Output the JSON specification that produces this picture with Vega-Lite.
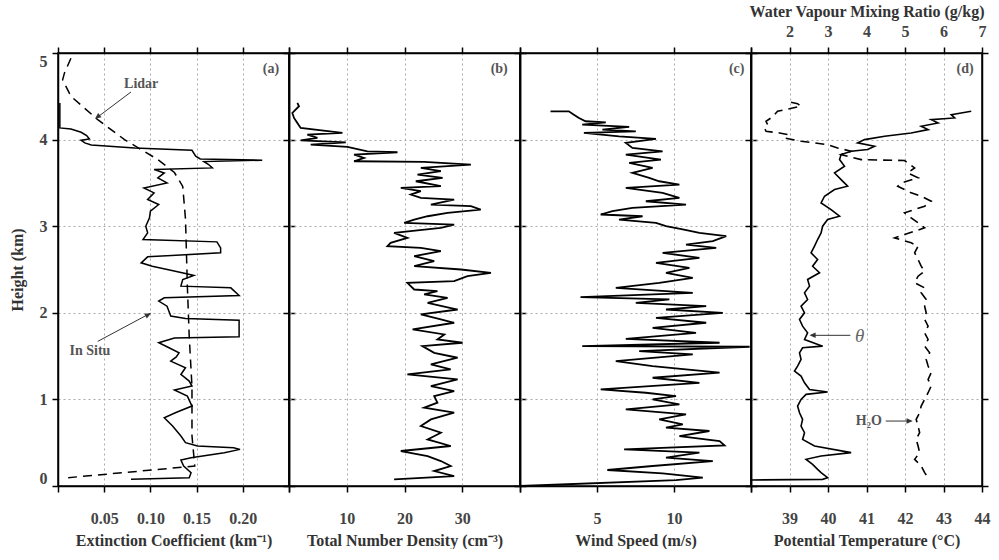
{
"$schema": "https://vega.github.io/schema/vega-lite/v6.json",
"background": "white",
"padding": {"left": 8, "top": 2, "right": 0, "bottom": 0},
"bounds": "flush",
"spacing": 0,
"config": {
 "view": {"stroke": "black", "strokeWidth": 1.5},
 "axis": {"domainColor": "black", "domainWidth": 1.5, "tickColor": "black", "tickWidth": 1.5, "tickSize": 6,
  "labelFont": "Liberation Serif", "labelFontWeight": "bold", "labelFontSize": 16, "labelColor": "#444", "labelOverlap": false, "labelFlush": false,
  "titleFont": "Liberation Serif", "titleFontWeight": "bold", "titleFontSize": 16, "titleColor": "#333",
  "gridColor": "#aaa", "gridDash": [2, 3], "gridWidth": 1},
 "text": {"font": "Liberation Serif", "fontWeight": "bold", "color": "#555", "fontSize": 14}
},
"datasets": {
 "insitu": [{"h":4.423,"v":0.002},{"h":4.135,"v":0.002},{"h":4.123,"v":0.014},{"h":4.085,"v":0.025},{"h":4.046,"v":0.031},{"h":4.008,"v":0.034},{"h":3.992,"v":0.025},{"h":3.962,"v":0.029},{"h":3.938,"v":0.036},{"h":3.904,"v":0.083},{"h":3.877,"v":0.145},{"h":3.808,"v":0.149},{"h":3.777,"v":0.154},{"h":3.762,"v":0.221},{"h":3.746,"v":0.158},{"h":3.712,"v":0.163},{"h":3.673,"v":0.167},{"h":3.654,"v":0.104},{"h":3.615,"v":0.115},{"h":3.558,"v":0.108},{"h":3.5,"v":0.118},{"h":3.442,"v":0.093},{"h":3.385,"v":0.104},{"h":3.308,"v":0.097},{"h":3.25,"v":0.109},{"h":3.173,"v":0.1},{"h":3.096,"v":0.099},{"h":3.0,"v":0.095},{"h":2.923,"v":0.097},{"h":2.846,"v":0.092},{"h":2.819,"v":0.172},{"h":2.75,"v":0.176},{"h":2.692,"v":0.176},{"h":2.646,"v":0.097},{"h":2.577,"v":0.09},{"h":2.538,"v":0.102},{"h":2.492,"v":0.122},{"h":2.454,"v":0.138},{"h":2.431,"v":0.147},{"h":2.385,"v":0.135},{"h":2.308,"v":0.133},{"h":2.288,"v":0.187},{"h":2.2,"v":0.196},{"h":2.173,"v":0.115},{"h":2.135,"v":0.109},{"h":2.077,"v":0.118},{"h":1.962,"v":0.122},{"h":1.935,"v":0.138},{"h":1.915,"v":0.196},{"h":1.723,"v":0.196},{"h":1.708,"v":0.126},{"h":1.654,"v":0.109},{"h":1.608,"v":0.118},{"h":1.538,"v":0.131},{"h":1.49,"v":0.128},{"h":1.442,"v":0.122},{"h":1.365,"v":0.138},{"h":1.288,"v":0.133},{"h":1.212,"v":0.142},{"h":1.154,"v":0.145},{"h":1.108,"v":0.126},{"h":1.038,"v":0.14},{"h":0.923,"v":0.145},{"h":0.846,"v":0.127},{"h":0.788,"v":0.115},{"h":0.692,"v":0.124},{"h":0.577,"v":0.133},{"h":0.5,"v":0.138},{"h":0.462,"v":0.151},{"h":0.442,"v":0.19},{"h":0.423,"v":0.197},{"h":0.385,"v":0.18},{"h":0.327,"v":0.144},{"h":0.3,"v":0.133},{"h":0.231,"v":0.136},{"h":0.154,"v":0.144},{"h":0.096,"v":0.142},{"h":0.077,"v":0.079}],
 "lidar": [{"h":4.94,"v":0.014},{"h":4.77,"v":0.007},{"h":4.69,"v":0.005},{"h":4.5,"v":0.014},{"h":4.23,"v":0.043},{"h":4.0,"v":0.072},{"h":3.77,"v":0.108},{"h":3.62,"v":0.126},{"h":3.46,"v":0.135},{"h":3.08,"v":0.138},{"h":2.31,"v":0.14},{"h":1.73,"v":0.142},{"h":1.15,"v":0.145},{"h":0.58,"v":0.145},{"h":0.23,"v":0.148},{"h":0.096,"v":0.011}],
 "ndens": [{"h":4.423,"v":1.45},{"h":4.385,"v":1.73},{"h":4.308,"v":0.58},{"h":4.25,"v":0.87},{"h":4.192,"v":1.45},{"h":4.135,"v":2.02},{"h":4.077,"v":9.25},{"h":4.058,"v":3.18},{"h":4.019,"v":4.91},{"h":3.992,"v":2.02},{"h":3.969,"v":9.83},{"h":3.942,"v":3.76},{"h":3.915,"v":10.12},{"h":3.865,"v":13.58},{"h":3.854,"v":18.79},{"h":3.827,"v":11.27},{"h":3.788,"v":13.0},{"h":3.75,"v":11.27},{"h":3.742,"v":23.4},{"h":3.712,"v":31.5},{"h":3.673,"v":22.83},{"h":3.635,"v":26.3},{"h":3.596,"v":22.25},{"h":3.558,"v":26.6},{"h":3.519,"v":21.96},{"h":3.462,"v":26.3},{"h":3.442,"v":19.36},{"h":3.404,"v":22.83},{"h":3.365,"v":21.1},{"h":3.327,"v":22.83},{"h":3.308,"v":28.6},{"h":3.25,"v":24.57},{"h":3.231,"v":31.5},{"h":3.192,"v":33.2},{"h":3.154,"v":27.46},{"h":3.115,"v":24.0},{"h":3.077,"v":21.68},{"h":3.038,"v":19.94},{"h":3.019,"v":28.6},{"h":2.981,"v":26.3},{"h":2.923,"v":18.2},{"h":2.865,"v":20.5},{"h":2.808,"v":17.6},{"h":2.769,"v":17.05},{"h":2.75,"v":22.83},{"h":2.712,"v":26.3},{"h":2.654,"v":21.68},{"h":2.596,"v":25.14},{"h":2.538,"v":21.68},{"h":2.5,"v":29.77},{"h":2.462,"v":34.97},{"h":2.423,"v":30.9},{"h":2.365,"v":28.6},{"h":2.346,"v":20.5},{"h":2.269,"v":21.68},{"h":2.25,"v":25.7},{"h":2.212,"v":23.4},{"h":2.173,"v":27.46},{"h":2.115,"v":24.0},{"h":2.038,"v":29.2},{"h":1.981,"v":22.83},{"h":1.923,"v":26.3},{"h":1.885,"v":28.6},{"h":1.808,"v":21.4},{"h":1.75,"v":26.9},{"h":1.692,"v":25.7},{"h":1.654,"v":30.06},{"h":1.615,"v":23.1},{"h":1.538,"v":25.14},{"h":1.481,"v":29.2},{"h":1.404,"v":24.57},{"h":1.346,"v":28.0},{"h":1.288,"v":20.5},{"h":1.231,"v":29.2},{"h":1.154,"v":24.57},{"h":1.096,"v":28.6},{"h":1.038,"v":25.14},{"h":0.962,"v":25.7},{"h":0.904,"v":23.4},{"h":0.846,"v":28.6},{"h":0.769,"v":24.57},{"h":0.692,"v":22.83},{"h":0.615,"v":26.3},{"h":0.538,"v":24.0},{"h":0.462,"v":28.0},{"h":0.404,"v":19.36},{"h":0.346,"v":24.0},{"h":0.288,"v":26.3},{"h":0.231,"v":28.0},{"h":0.173,"v":25.14},{"h":0.115,"v":28.6},{"h":0.077,"v":18.2}],
 "wind": [{"h":4.327,"v":1.98},{"h":4.327,"v":3.17},{"h":4.288,"v":3.5},{"h":4.25,"v":3.83},{"h":4.212,"v":4.26},{"h":4.2,"v":5.57},{"h":4.173,"v":4.04},{"h":4.146,"v":7.09},{"h":4.115,"v":5.35},{"h":4.096,"v":7.52},{"h":4.077,"v":4.15},{"h":4.038,"v":6.43},{"h":4.008,"v":8.83},{"h":3.962,"v":6.87},{"h":3.904,"v":7.3},{"h":3.865,"v":9.26},{"h":3.827,"v":6.87},{"h":3.769,"v":9.15},{"h":3.731,"v":7.09},{"h":3.673,"v":8.61},{"h":3.615,"v":7.3},{"h":3.558,"v":8.39},{"h":3.519,"v":9.04},{"h":3.481,"v":10.35},{"h":3.442,"v":6.87},{"h":3.385,"v":9.26},{"h":3.327,"v":10.35},{"h":3.288,"v":8.17},{"h":3.25,"v":10.78},{"h":3.212,"v":7.3},{"h":3.173,"v":6.0},{"h":3.135,"v":5.24},{"h":3.115,"v":7.96},{"h":3.077,"v":6.43},{"h":3.038,"v":8.83},{"h":3.0,"v":9.48},{"h":2.962,"v":10.57},{"h":2.923,"v":11.65},{"h":2.885,"v":13.39},{"h":2.827,"v":12.52},{"h":2.788,"v":10.78},{"h":2.75,"v":12.74},{"h":2.692,"v":9.26},{"h":2.635,"v":11.65},{"h":2.577,"v":8.83},{"h":2.519,"v":11.0},{"h":2.462,"v":9.48},{"h":2.404,"v":11.22},{"h":2.346,"v":9.04},{"h":2.288,"v":6.22},{"h":2.231,"v":11.22},{"h":2.181,"v":3.93},{"h":2.154,"v":9.7},{"h":2.115,"v":7.52},{"h":2.077,"v":12.09},{"h":2.038,"v":9.48},{"h":2.0,"v":13.17},{"h":1.942,"v":8.83},{"h":1.885,"v":12.09},{"h":1.827,"v":8.61},{"h":1.769,"v":11.43},{"h":1.7,"v":6.87},{"h":1.654,"v":12.96},{"h":1.615,"v":4.04},{"h":1.608,"v":14.91},{"h":1.558,"v":7.74},{"h":1.519,"v":11.22},{"h":1.442,"v":6.22},{"h":1.385,"v":8.61},{"h":1.346,"v":10.78},{"h":1.308,"v":12.96},{"h":1.25,"v":8.61},{"h":1.192,"v":11.65},{"h":1.115,"v":5.24},{"h":1.077,"v":8.17},{"h":1.038,"v":10.13},{"h":1.0,"v":8.61},{"h":0.942,"v":10.35},{"h":0.885,"v":6.87},{"h":0.827,"v":10.78},{"h":0.769,"v":9.04},{"h":0.712,"v":10.57},{"h":0.673,"v":9.48},{"h":0.635,"v":12.3},{"h":0.577,"v":10.35},{"h":0.519,"v":12.96},{"h":0.469,"v":13.28},{"h":0.423,"v":6.76},{"h":0.385,"v":11.65},{"h":0.327,"v":9.48},{"h":0.288,"v":12.52},{"h":0.231,"v":8.61},{"h":0.185,"v":5.67},{"h":0.146,"v":9.26},{"h":0.096,"v":11.87},{"h":0.069,"v":10.13},{"h":0.0,"v":0.02}],
 "theta": [{"h":4.327,"v":43.72},{"h":4.288,"v":43.2},{"h":4.25,"v":43.29},{"h":4.231,"v":42.68},{"h":4.192,"v":42.86},{"h":4.154,"v":42.42},{"h":4.115,"v":42.6},{"h":4.077,"v":42.16},{"h":4.038,"v":41.47},{"h":4.0,"v":40.95},{"h":3.962,"v":40.77},{"h":3.923,"v":41.21},{"h":3.885,"v":41.03},{"h":3.865,"v":40.6},{"h":3.827,"v":40.34},{"h":3.769,"v":40.3},{"h":3.692,"v":40.43},{"h":3.615,"v":40.17},{"h":3.538,"v":40.34},{"h":3.462,"v":40.51},{"h":3.423,"v":40.17},{"h":3.346,"v":39.91},{"h":3.269,"v":39.82},{"h":3.192,"v":40.08},{"h":3.115,"v":40.3},{"h":3.077,"v":39.99},{"h":3.0,"v":39.86},{"h":2.923,"v":39.82},{"h":2.846,"v":39.73},{"h":2.769,"v":39.65},{"h":2.692,"v":39.56},{"h":2.615,"v":39.73},{"h":2.538,"v":39.6},{"h":2.462,"v":39.78},{"h":2.385,"v":39.47},{"h":2.308,"v":39.52},{"h":2.231,"v":39.39},{"h":2.154,"v":39.47},{"h":2.077,"v":39.3},{"h":2.0,"v":39.39},{"h":1.923,"v":39.26},{"h":1.846,"v":39.34},{"h":1.769,"v":39.47},{"h":1.692,"v":39.39},{"h":1.615,"v":39.86},{"h":1.596,"v":39.34},{"h":1.538,"v":39.26},{"h":1.462,"v":39.3},{"h":1.385,"v":39.21},{"h":1.327,"v":39.13},{"h":1.269,"v":39.3},{"h":1.192,"v":39.39},{"h":1.115,"v":39.52},{"h":1.085,"v":39.99},{"h":1.058,"v":39.43},{"h":1.0,"v":39.3},{"h":0.923,"v":39.21},{"h":0.846,"v":39.26},{"h":0.769,"v":39.34},{"h":0.692,"v":39.3},{"h":0.615,"v":39.39},{"h":0.538,"v":39.34},{"h":0.462,"v":39.65},{"h":0.385,"v":40.6},{"h":0.346,"v":39.82},{"h":0.308,"v":39.43},{"h":0.25,"v":39.6},{"h":0.192,"v":39.73},{"h":0.154,"v":39.82},{"h":0.096,"v":39.99},{"h":0.077,"v":39.86},{"h":0.069,"v":38.0}],
 "wv": [{"h":4.431,"v":2.04},{"h":4.415,"v":2.21},{"h":4.385,"v":2.3},{"h":4.365,"v":2.08},{"h":4.327,"v":1.69},{"h":4.288,"v":1.61},{"h":4.25,"v":1.52},{"h":4.212,"v":1.39},{"h":4.173,"v":1.43},{"h":4.135,"v":1.35},{"h":4.096,"v":1.39},{"h":4.077,"v":1.74},{"h":4.058,"v":1.95},{"h":4.019,"v":1.87},{"h":3.981,"v":2.3},{"h":3.942,"v":2.99},{"h":3.904,"v":3.25},{"h":3.865,"v":3.6},{"h":3.827,"v":3.34},{"h":3.808,"v":3.51},{"h":3.769,"v":3.86},{"h":3.758,"v":4.99},{"h":3.731,"v":5.07},{"h":3.673,"v":5.25},{"h":3.615,"v":5.07},{"h":3.558,"v":5.34},{"h":3.5,"v":4.9},{"h":3.462,"v":4.81},{"h":3.385,"v":5.16},{"h":3.346,"v":5.42},{"h":3.288,"v":5.68},{"h":3.231,"v":5.51},{"h":3.154,"v":4.99},{"h":3.096,"v":5.16},{"h":3.038,"v":5.34},{"h":2.981,"v":5.51},{"h":2.904,"v":4.99},{"h":2.865,"v":4.73},{"h":2.808,"v":5.16},{"h":2.769,"v":5.34},{"h":2.692,"v":5.25},{"h":2.615,"v":5.34},{"h":2.538,"v":5.42},{"h":2.481,"v":5.51},{"h":2.423,"v":5.34},{"h":2.346,"v":5.25},{"h":2.288,"v":5.51},{"h":2.231,"v":5.42},{"h":2.154,"v":5.55},{"h":2.077,"v":5.51},{"h":2.0,"v":5.55},{"h":1.923,"v":5.51},{"h":1.846,"v":5.6},{"h":1.769,"v":5.51},{"h":1.692,"v":5.6},{"h":1.615,"v":5.51},{"h":1.538,"v":5.64},{"h":1.462,"v":5.55},{"h":1.385,"v":5.6},{"h":1.308,"v":5.68},{"h":1.231,"v":5.6},{"h":1.154,"v":5.68},{"h":1.077,"v":5.6},{"h":1.0,"v":5.51},{"h":0.923,"v":5.42},{"h":0.846,"v":5.38},{"h":0.769,"v":5.29},{"h":0.692,"v":5.34},{"h":0.615,"v":5.38},{"h":0.538,"v":5.29},{"h":0.462,"v":5.34},{"h":0.385,"v":5.38},{"h":0.308,"v":5.25},{"h":0.231,"v":5.42},{"h":0.154,"v":5.51},{"h":0.096,"v":5.6}]
},
"hconcat": [
 {
  "width": 231, "height": 433,
  "layer": [
   {"data": {"name": "lidar"}, "mark": {"type": "line", "color": "black", "strokeWidth": 1.5, "strokeDash": [9, 6]},
    "encoding": {
     "x": {"field": "v", "type": "quantitative", "scale": {"domain": [0, 0.25]},
      "axis": {"orient": "bottom", "values": [0, 0.05, 0.1, 0.15, 0.2, 0.25], "labelExpr": "datum.value < 0.01 || datum.value > 0.24 ? '' : format(datum.value, '.2f')", "grid": true, "labelPadding": 18, "titlePadding": 6, "title": "Extinction Coefficient (km⁻¹)"}},
     "y": {"field": "h", "type": "quantitative", "scale": {"domain": [0, 5]},
      "axis": {"orient": "left", "values": [0, 1, 2, 3, 4, 5], "grid": true, "labelPadding": 5, "labelFlush": true, "titlePadding": 14, "title": "Height (km)"}},
     "order": {"value": null}}},
   {"data": {"name": "insitu"}, "mark": {"type": "line", "color": "black", "strokeWidth": 1.5},
    "encoding": {
     "x": {"field": "v", "type": "quantitative", "scale": {"domain": [0, 0.25]}, "axis": null},
     "y": {"field": "h", "type": "quantitative", "scale": {"domain": [0, 5]}, "axis": null},
     "order": {"value": null}}},
   {"data": {"values": [{"t": "(a)", "x": 0.2305, "h": 4.82}]}, "mark": {"type": "text", "fontSize": 14},
    "encoding": {
     "x": {"field": "x", "type": "quantitative", "scale": {"domain": [0, 0.25]}, "axis": {"orient": "top", "values": [0, 0.05, 0.1, 0.15, 0.2, 0.25], "labels": false, "title": null, "grid": false}},
     "y": {"field": "h", "type": "quantitative", "scale": {"domain": [0, 5]}, "axis": {"orient": "right", "values": [0, 1, 2, 3, 4, 5], "labels": false, "title": null, "grid": false}},
     "text": {"field": "t"}}},
   {"data": {"values": [{"t": "Lidar", "x": 0.09, "h": 4.64}, {"t": "In Situ", "x": 0.0346, "h": 1.56}]}, "mark": {"type": "text", "fontSize": 14},
    "encoding": {
     "x": {"field": "x", "type": "quantitative", "scale": {"domain": [0, 0.25]}, "axis": null},
     "y": {"field": "h", "type": "quantitative", "scale": {"domain": [0, 5]}, "axis": null},
     "text": {"field": "t"}}},
   {"data": {"values": [{"x": 0.079, "h": 4.55, "x2": 0.041, "h2": 4.245}, {"x": 0.043, "h": 1.67, "x2": 0.1, "h2": 1.995}]}, "mark": {"type": "rule", "color": "#333", "strokeWidth": 1},
    "encoding": {
     "x": {"field": "x", "type": "quantitative", "scale": {"domain": [0, 0.25]}, "axis": null},
     "y": {"field": "h", "type": "quantitative", "scale": {"domain": [0, 5]}, "axis": null},
     "x2": {"field": "x2"}, "y2": {"field": "h2"}}},
   {"data": {"values": [{"x": 0.04, "h": 4.24}]}, "mark": {"type": "point", "shape": "M -0.45 1 L 0 0 L 0.45 1 Z", "filled": true, "size": 150, "color": "#333", "opacity": 1, "angle": 233},
    "encoding": {
     "x": {"field": "x", "type": "quantitative", "scale": {"domain": [0, 0.25]}, "axis": null},
     "y": {"field": "h", "type": "quantitative", "scale": {"domain": [0, 5]}, "axis": null}}},
   {"data": {"values": [{"x": 0.1006, "h": 1.995}]}, "mark": {"type": "point", "shape": "M -0.45 1 L 0 0 L 0.45 1 Z", "filled": true, "size": 150, "color": "#333", "opacity": 1, "angle": 62},
    "encoding": {
     "x": {"field": "x", "type": "quantitative", "scale": {"domain": [0, 0.25]}, "axis": null},
     "y": {"field": "h", "type": "quantitative", "scale": {"domain": [0, 5]}, "axis": null}}}
  ],
  "resolve": {"axis": {"x": "independent", "y": "independent"}}
 },
 {
  "width": 231, "height": 433,
  "layer": [
   {"data": {"name": "ndens"}, "mark": {"type": "line", "color": "black", "strokeWidth": 1.8},
    "encoding": {
     "x": {"field": "v", "type": "quantitative", "scale": {"domain": [0, 40]},
      "axis": {"orient": "bottom", "values": [0, 10, 20, 30, 40], "labelExpr": "datum.value == 0 || datum.value == 40 ? '' : datum.value", "grid": true, "labelPadding": 18, "titlePadding": 6, "title": "Total Number Density (cm⁻³)"}},
     "y": {"field": "h", "type": "quantitative", "scale": {"domain": [0, 5]},
      "axis": {"orient": "left", "values": [0, 1, 2, 3, 4, 5], "grid": true, "labels": false, "title": null}},
     "order": {"value": null}}},
   {"data": {"values": [{"t": "(b)", "x": 36.4, "h": 4.82}]}, "mark": {"type": "text", "fontSize": 14},
    "encoding": {
     "x": {"field": "x", "type": "quantitative", "scale": {"domain": [0, 40]}, "axis": {"orient": "top", "values": [0, 10, 20, 30, 40], "labels": false, "title": null, "grid": false}},
     "y": {"field": "h", "type": "quantitative", "scale": {"domain": [0, 5]}, "axis": {"orient": "right", "values": [0, 1, 2, 3, 4, 5], "labels": false, "title": null, "grid": false}},
     "text": {"field": "t"}}}
  ],
  "resolve": {"axis": {"x": "independent", "y": "independent"}}
 },
 {
  "width": 231, "height": 433,
  "layer": [
   {"data": {"name": "wind"}, "mark": {"type": "line", "color": "black", "strokeWidth": 1.8},
    "encoding": {
     "x": {"field": "v", "type": "quantitative", "scale": {"domain": [0, 15]},
      "axis": {"orient": "bottom", "values": [0, 5, 10, 15], "labelExpr": "datum.value == 0 || datum.value == 15 ? '' : datum.value", "grid": true, "labelPadding": 18, "titlePadding": 6, "title": "Wind Speed (m/s)"}},
     "y": {"field": "h", "type": "quantitative", "scale": {"domain": [0, 5]},
      "axis": {"orient": "left", "values": [0, 1, 2, 3, 4, 5], "grid": true, "labels": false, "title": null}},
     "order": {"value": null}}},
   {"data": {"values": [{"t": "(c)", "x": 14.07, "h": 4.82}]}, "mark": {"type": "text", "fontSize": 14},
    "encoding": {
     "x": {"field": "x", "type": "quantitative", "scale": {"domain": [0, 15]}, "axis": {"orient": "top", "values": [0, 5, 10, 15], "labels": false, "title": null, "grid": false}},
     "y": {"field": "h", "type": "quantitative", "scale": {"domain": [0, 5]}, "axis": {"orient": "right", "values": [0, 1, 2, 3, 4, 5], "labels": false, "title": null, "grid": false}},
     "text": {"field": "t"}}}
  ],
  "resolve": {"axis": {"x": "independent", "y": "independent"}}
 },
 {
  "width": 231, "height": 433,
  "layer": [
   {"data": {"name": "theta"}, "mark": {"type": "line", "color": "black", "strokeWidth": 1.6},
    "encoding": {
     "x": {"field": "v", "type": "quantitative", "scale": {"domain": [38, 44]},
      "axis": {"orient": "bottom", "values": [38, 39, 40, 41, 42, 43, 44], "labelExpr": "datum.value == 38 ? '' : datum.value", "grid": true, "labelPadding": 18, "titlePadding": 6, "title": "Potential Temperature (°C)"}},
     "y": {"field": "h", "type": "quantitative", "scale": {"domain": [0, 5]},
      "axis": {"orient": "left", "values": [0, 1, 2, 3, 4, 5], "grid": true, "labels": false, "title": null}},
     "order": {"value": null}}},
   {"data": {"name": "wv"}, "mark": {"type": "line", "color": "black", "strokeWidth": 1.6, "strokeDash": [9, 6]},
    "encoding": {
     "x": {"field": "v", "type": "quantitative", "scale": {"domain": [1, 7]},
      "axis": {"orient": "top", "values": [1, 2, 3, 4, 5, 6, 7], "labelExpr": "datum.value == 1 ? '' : datum.value", "grid": false, "labelPadding": 8, "titlePadding": 4, "title": "Water Vapour Mixing Ratio (g/kg)"}},
     "y": {"field": "h", "type": "quantitative", "scale": {"domain": [0, 5]},
      "axis": {"orient": "right", "values": [0, 1, 2, 3, 4, 5], "labels": false, "title": null, "grid": false}},
     "order": {"value": null}}},
   {"data": {"values": [{"t": "(d)", "x": 43.56, "h": 4.82}, {"t": "H₂O", "x": 41.06, "h": 0.75}]}, "mark": {"type": "text", "fontSize": 14},
    "encoding": {
     "x": {"field": "x", "type": "quantitative", "scale": {"domain": [38, 44]}, "axis": null},
     "y": {"field": "h", "type": "quantitative", "scale": {"domain": [0, 5]}, "axis": null},
     "text": {"field": "t"}}},
   {"data": {"values": [{"t": "θ", "x": 40.82, "h": 1.73}]}, "mark": {"type": "text", "fontSize": 19, "fontStyle": "italic", "fontWeight": "normal", "color": "#666"},
    "encoding": {
     "x": {"field": "x", "type": "quantitative", "scale": {"domain": [38, 44]}, "axis": null},
     "y": {"field": "h", "type": "quantitative", "scale": {"domain": [0, 5]}, "axis": null},
     "text": {"field": "t"}}},
   {"data": {"values": [{"x": 40.58, "h": 1.74, "x2": 39.56}, {"x": 41.5, "h": 0.75, "x2": 42.16}]}, "mark": {"type": "rule", "color": "#333", "strokeWidth": 1},
    "encoding": {
     "x": {"field": "x", "type": "quantitative", "scale": {"domain": [38, 44]}, "axis": null},
     "y": {"field": "h", "type": "quantitative", "scale": {"domain": [0, 5]}, "axis": null},
     "x2": {"field": "x2"}}},
   {"data": {"values": [{"x": 39.52, "h": 1.74}]}, "mark": {"type": "point", "shape": "M -0.45 1 L 0 0 L 0.45 1 Z", "filled": true, "size": 150, "color": "#333", "opacity": 1, "angle": 270},
    "encoding": {
     "x": {"field": "x", "type": "quantitative", "scale": {"domain": [38, 44]}, "axis": null},
     "y": {"field": "h", "type": "quantitative", "scale": {"domain": [0, 5]}, "axis": null}}},
   {"data": {"values": [{"x": 42.2, "h": 0.75}]}, "mark": {"type": "point", "shape": "M -0.45 1 L 0 0 L 0.45 1 Z", "filled": true, "size": 150, "color": "#333", "opacity": 1, "angle": 90},
    "encoding": {
     "x": {"field": "x", "type": "quantitative", "scale": {"domain": [38, 44]}, "axis": null},
     "y": {"field": "h", "type": "quantitative", "scale": {"domain": [0, 5]}, "axis": null}}}
  ],
  "resolve": {"scale": {"x": "independent"}, "axis": {"x": "independent", "y": "independent"}}
 }
]
}
